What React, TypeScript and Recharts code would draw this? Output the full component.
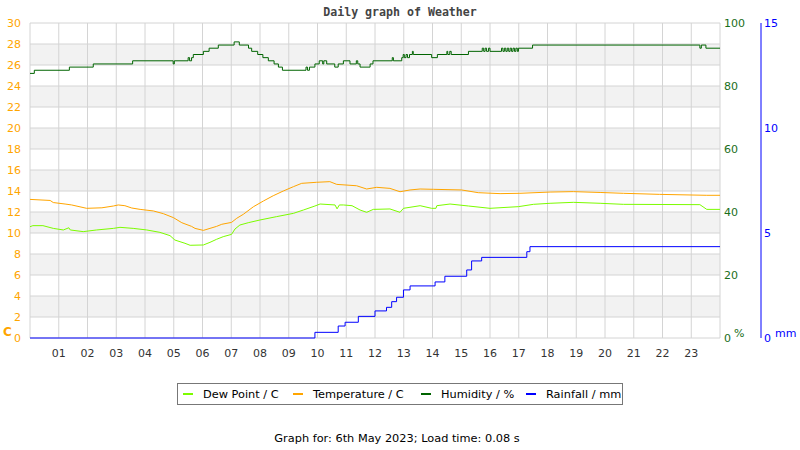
import React from 'react';
import { LineChart, Line, XAxis, YAxis, CartesianGrid } from 'recharts';

const hourTicks = [0, 1, 2, 3, 4, 5, 6, 7, 8, 9, 10, 11, 12, 13, 14, 15, 16, 17, 18, 19, 20, 21, 22, 23, 24];
const tempTicks = [0, 2, 4, 6, 8, 10, 12, 14, 16, 18, 20, 22, 24, 26, 28, 30];
const humidityTicks = [0, 20, 40, 60, 80, 100];
const rainTicks = [0, 5, 10, 15];

const legendItems = [
  { name: 'Dew Point / C', color: '#7CFC00' },
  { name: 'Temperature / C', color: '#FFA500' },
  { name: 'Humidity / %', color: '#006400' },
  { name: 'Rainfall / mm', color: '#0000FF' },
];
const legendOffsets = [5, 115, 243, 348];

// [hour, %]
const humidityPoints: [number, number][] = [
  [0, 84], [0.15, 85], [1.37, 86], [2.2, 87], [3.57, 88], [4.98, 87], [5.02, 88],
  [5.5, 89], [5.55, 88], [5.62, 89], [5.68, 90], [6.03, 91], [6.23, 92], [6.55, 93],
  [7.1, 94], [7.28, 93], [7.6, 92], [7.71, 91], [7.92, 90], [8.1, 89], [8.29, 88],
  [8.49, 87], [8.64, 86], [8.78, 85], [9.6, 86], [9.65, 85], [9.72, 86], [9.91, 87],
  [10.06, 88], [10.18, 87], [10.22, 88], [10.32, 87], [10.6, 86], [10.72, 87], [10.9, 88],
  [11.13, 87], [11.35, 88], [11.4, 87], [11.48, 86], [11.83, 87], [11.93, 88], [12.6, 89],
  [12.64, 88], [12.93, 89], [12.98, 90], [13.02, 89], [13.08, 90], [13.13, 89], [13.2, 90],
  [13.3, 91], [13.33, 90], [13.97, 89], [14.17, 90], [14.5, 91], [14.53, 90], [14.6, 91],
  [14.65, 90], [15.25, 91], [15.73, 92], [15.78, 91], [15.83, 92], [15.88, 91], [15.95, 92],
  [16.0, 91], [16.4, 92], [16.45, 91], [16.5, 92], [16.55, 91], [16.6, 92], [16.65, 91],
  [16.7, 92], [16.75, 91], [16.8, 92], [16.85, 91], [16.9, 92], [16.95, 91], [16.99, 92],
  [17.48, 93], [23.3, 92], [23.35, 93], [23.51, 92], [24, 92],
];

// [hour, C]
const temperaturePoints: [number, number][] = [
  [0, 13.2], [0.7, 13.1], [0.81, 12.9], [1.22, 12.76], [1.45, 12.67], [1.97, 12.35],
  [2.5, 12.4], [2.9, 12.57], [3.07, 12.67], [3.3, 12.6], [3.54, 12.38], [3.83, 12.25],
  [4.29, 12.1], [4.64, 11.84], [4.99, 11.46], [5.28, 10.98], [5.62, 10.63], [5.74, 10.44],
  [6.03, 10.25], [6.26, 10.44], [6.49, 10.63], [6.67, 10.83], [7.01, 11.01], [7.19, 11.4],
  [7.42, 11.78], [7.77, 12.5], [8.12, 13.05], [8.46, 13.55], [8.81, 14.0], [9.16, 14.41],
  [9.45, 14.73], [9.97, 14.83], [10.43, 14.89], [10.67, 14.63], [11.36, 14.5], [11.71, 14.19],
  [12.06, 14.35], [12.52, 14.25], [12.87, 13.93], [13.22, 14.1], [13.57, 14.19], [14.03, 14.16],
  [15.01, 14.1], [15.59, 13.84], [16.35, 13.75], [17.04, 13.78], [18.09, 13.9], [18.9, 13.94],
  [19.83, 13.86], [20.64, 13.78], [21.9, 13.68], [23.54, 13.59], [24, 13.59],
];

// [hour, C]
const dewPointPoints: [number, number][] = [
  [0, 10.6], [0.1, 10.7], [0.45, 10.7], [0.81, 10.44], [1.16, 10.29], [1.35, 10.5],
  [1.4, 10.29], [1.85, 10.13], [2.32, 10.29], [2.9, 10.44], [3.13, 10.54], [3.59, 10.44],
  [4.06, 10.29], [4.52, 10.06], [4.87, 9.75], [5.04, 9.33], [5.39, 9.02], [5.57, 8.83],
  [6.03, 8.86], [6.26, 9.11], [6.49, 9.4], [6.72, 9.65], [7.01, 9.87], [7.13, 10.38],
  [7.3, 10.76], [7.59, 10.98], [8.0, 11.24], [8.58, 11.56], [9.16, 11.87], [9.51, 12.19],
  [9.91, 12.57], [10.09, 12.76], [10.61, 12.67], [10.68, 12.3], [10.76, 12.67], [10.9, 12.67],
  [11.2, 12.6], [11.48, 12.19], [11.71, 11.97], [11.94, 12.25], [12.52, 12.29], [12.87, 11.97],
  [12.99, 12.35], [13.57, 12.6], [13.97, 12.35], [14.12, 12.35], [14.15, 12.6], [14.61, 12.76],
  [15.25, 12.57], [16.0, 12.35], [16.99, 12.51], [17.51, 12.73], [18.09, 12.83], [18.9, 12.92],
  [19.83, 12.83], [20.64, 12.73], [23.3, 12.7], [23.54, 12.25], [24, 12.25],
];

// [hour, mm]
const rainfallPoints: [number, number][] = [
  [0, 0], [9.91, 0.27], [10.72, 0.57], [10.96, 0.75], [11.42, 1.03], [12.0, 1.29],
  [12.4, 1.46], [12.58, 1.73], [12.75, 1.94], [12.99, 2.29], [13.22, 2.48], [14.09, 2.67],
  [14.43, 2.94], [15.19, 3.24], [15.36, 3.67], [15.71, 3.84], [17.28, 4.11], [17.39, 4.35],
  [24, 4.35],
];

const toRows = (pts: [number, number][]) => pts.map(([h, v]) => ({ h, v }));

const humidityData = toRows(humidityPoints);
const temperatureData = toRows(temperaturePoints);
const dewPointData = toRows(dewPointPoints);
const rainfallData = toRows(rainfallPoints);

const FONT = '"DejaVu Sans", sans-serif';

export default function App() {
  return (
    <div
      style={{
        position: 'absolute',
        left: 0,
        top: 0,
        width: 800,
        height: 450,
        background: '#ffffff',
        fontFamily: FONT,
      }}
    >
      <div
        style={{
          position: 'absolute',
          left: 0,
          width: 800,
          top: 5,
          textAlign: 'center',
          fontFamily: '"DejaVu Sans Mono", monospace',
          fontWeight: 'bold',
          fontSize: 11.6,
          color: '#444',
        }}
      >
        Daily graph of Weather
      </div>
      <LineChart width={800} height={450} margin={{ top: 23, right: 0, bottom: 82, left: 0 }}>
        <CartesianGrid
          yAxisId="t"
          stroke="#d4d4d4"
          horizontalFill={['#ffffff', '#f2f2f2']}
          fillOpacity={1}
        />
        <XAxis
          dataKey="h"
          type="number"
          domain={[0, 24]}
          ticks={hourTicks}
          interval={0}
          allowDataOverflow
          height={30}
          axisLine={false}
          tickLine={false}
          tickSize={0}
          tickMargin={11}
          tick={{ fill: '#333', fontSize: 11, fontFamily: FONT }}
          tickFormatter={(v: number) => (v === 0 || v === 24 ? '' : String(v).padStart(2, '0'))}
        />
        <YAxis
          yAxisId="t"
          orientation="left"
          width={30}
          domain={[0, 30]}
          ticks={tempTicks}
          interval={0}
          axisLine={false}
          tickLine={false}
          tickSize={0}
          tickMargin={9}
          tick={{ fill: '#FFA500', fontSize: 11, fontFamily: FONT }}
        />
        <YAxis
          yAxisId="h"
          orientation="right"
          width={41}
          domain={[0, 100]}
          ticks={humidityTicks}
          interval={0}
          axisLine={false}
          tickLine={false}
          tickSize={0}
          tickMargin={4}
          tick={{ fill: '#1a6e1a', fontSize: 11, fontFamily: FONT }}
        />
        <YAxis
          yAxisId="r"
          orientation="right"
          width={39}
          domain={[0, 15]}
          ticks={rainTicks}
          interval={0}
          axisLine={{ stroke: '#0000FF', strokeWidth: 1 }}
          tickLine={false}
          tickSize={0}
          tickMargin={3}
          tick={{ fill: '#0000FF', fontSize: 11, fontFamily: FONT }}
        />
        <Line
          yAxisId="r"
          data={rainfallData}
          dataKey="v"
          type="stepAfter"
          stroke="#0000FF"
          strokeWidth={1}
          dot={false}
          isAnimationActive={false}
        />
        <Line
          yAxisId="t"
          data={dewPointData}
          dataKey="v"
          type="linear"
          stroke="#7CFC00"
          strokeWidth={1}
          dot={false}
          isAnimationActive={false}
        />
        <Line
          yAxisId="t"
          data={temperatureData}
          dataKey="v"
          type="linear"
          stroke="#FFA500"
          strokeWidth={1}
          dot={false}
          isAnimationActive={false}
        />
        <Line
          yAxisId="h"
          data={humidityData}
          dataKey="v"
          type="stepAfter"
          stroke="#006400"
          strokeWidth={1}
          dot={false}
          isAnimationActive={false}
        />
      </LineChart>
      <div style={{ position: 'absolute', left: 3, top: 325, color: '#FFA500', fontSize: 12, fontWeight: 'bold' }}>C</div>
      <div style={{ position: 'absolute', left: 734, top: 327, color: '#1a6e1a', fontSize: 11 }}>%</div>
      <div style={{ position: 'absolute', left: 775, top: 327, color: '#0000FF', fontSize: 11 }}>mm</div>
      <div
        style={{
          position: 'absolute',
          left: 177,
          top: 383,
          width: 446,
          height: 22,
          border: '1px solid #777',
          boxSizing: 'border-box',
          fontSize: 11.33,
          color: '#000',
          whiteSpace: 'nowrap',
        }}
      >
        {legendItems.map((it, i) => (
          <div
            key={it.name}
            style={{
              position: 'absolute',
              left: legendOffsets[i],
              top: 0,
              height: 20,
              display: 'flex',
              alignItems: 'center',
            }}
          >
            <span style={{ display: 'inline-block', width: 10, height: 2, background: it.color, marginRight: 10 }} />
            <span>{it.name}</span>
          </div>
        ))}
      </div>
      <div
        style={{
          position: 'absolute',
          left: 0,
          width: 794,
          top: 431,
          textAlign: 'center',
          fontSize: 11.33,
          color: '#000',
        }}
      >
        Graph for: 6th May 2023; Load time: 0.08 s
      </div>
    </div>
  );
}
